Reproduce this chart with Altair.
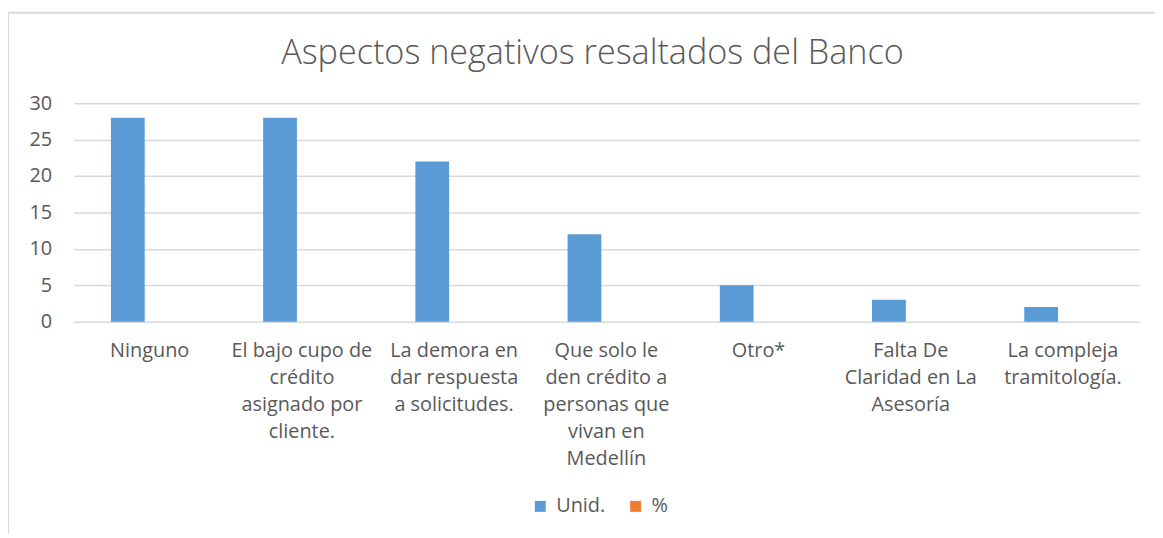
import altair as alt
import pandas as pd

categories = [
    "Ninguno",
    "El bajo cupo de crédito asignado por cliente.",
    "La demora en dar respuesta a solicitudes.",
    "Que solo le den crédito a personas que vivan en Medellín",
    "Otro*",
    "Falta De Claridad en La Asesoría",
    "La compleja tramitología.",
]
label_lines = [
    ["Ninguno"],
    ["El bajo cupo de", "crédito", "asignado por", "cliente."],
    ["La demora en", "dar respuesta", "a solicitudes."],
    ["Que solo le", "den crédito a", "personas que", "vivan en", "Medellín"],
    ["Otro*"],
    ["Falta De", "Claridad en La", "Asesoría"],
    ["La compleja", "tramitología."],
]
unid = [28, 28, 22, 12, 5, 3, 2]
pct = [0, 0, 0, 0, 0, 0, 0]
series = ["Unid.", "%"]
colors = ["#5B9BD5", "#ED7D31"]
y_ticks = [0, 5, 10, 15, 20, 25, 30]

rows = []
for c, u, p in zip(categories, unid, pct):
    rows.append({"cat": c, "serie": "Unid.", "val": u})
    rows.append({"cat": c, "serie": "%", "val": p})
df = pd.DataFrame(rows)

# label expression mapping category -> wrapped lines
parts = []
for c, lines in zip(categories, label_lines):
    arr = "[" + ",".join("'" + l + "'" for l in lines) + "]"
    parts.append(f"datum.label == '{c}' ? {arr}")
label_expr = " : ".join(parts) + " : datum.label"

FONT = "Open Sans"
GRAY = "#595959"

bars = alt.Chart(df).mark_bar().encode(
    x=alt.X(
        "cat:N",
        sort=categories,
        title=None,
        scale=alt.Scale(paddingInner=0.491, paddingOuter=0.2455),
        axis=alt.Axis(
            labelAngle=0,
            labelExpr=label_expr,
            labelFontSize=20,
            labelColor=GRAY,
            labelFont=FONT,
            labelPadding=19,
            labelLineHeight=27.3,
            labelBaseline="top",
            ticks=False,
            domain=False,
            labelLimit=200,
        ),
    ),
    xOffset=alt.XOffset(
        "serie:N",
        sort=series,
        scale=alt.Scale(domain=series, paddingInner=0.227, paddingOuter=0),
    ),
    y=alt.Y(
        "val:Q",
        title=None,
        scale=alt.Scale(domain=[0, 30]),
        axis=alt.Axis(
            values=y_ticks,
            labelFontSize=20,
            labelColor=GRAY,
            labelFont=FONT,
            labelPadding=22,
            ticks=False,
            domain=False,
            gridColor="#d9d9d9",
            gridWidth=1.5,
        ),
    ),
    color=alt.Color(
        "serie:N",
        sort=series,
        scale=alt.Scale(domain=series, range=colors),
        legend=alt.Legend(
            title=None,
            orient="none",
            direction="horizontal",
            legendX=460,
            legendY=396,
            symbolType="square",
            symbolSize=121,
            symbolStrokeWidth=0,
            labelFontSize=20,
            labelColor=GRAY,
            labelFont=FONT,
            columnPadding=20,
            labelOffset=6,
            padding=0,
        ),
    ),
)

frame_left = alt.Chart(alt.Data(values=[{"k": 1}])).mark_rule(
    color="#d9d9d9", strokeWidth=2, clip=False
).encode(x=alt.value(-66), y=alt.value(-91), y2=alt.value(440))
frame_top = alt.Chart(alt.Data(values=[{"k": 1}])).mark_rule(
    color="#d9d9d9", strokeWidth=2, clip=False
).encode(x=alt.value(-66), x2=alt.value(1100), y=alt.value(-91))

chart = alt.layer(bars, frame_left, frame_top).properties(
    width=1073,
    height=220,
    autosize=alt.AutoSizeParams(type="none"),
    padding={"left": 66, "top": 94, "right": 16, "bottom": 212},
    title=alt.TitleParams(
        "Aspectos negativos resaltados del Banco",
        font=FONT,
        fontSize=34.4,
        fontWeight=300,
        color=GRAY,
        anchor="middle",
        baseline="alphabetic",
        dx=-14,
        offset=-87,
    ),
).configure_view(stroke=None)

chart.save("out.html", embed_options={"renderer": "svg", "actions": False})
